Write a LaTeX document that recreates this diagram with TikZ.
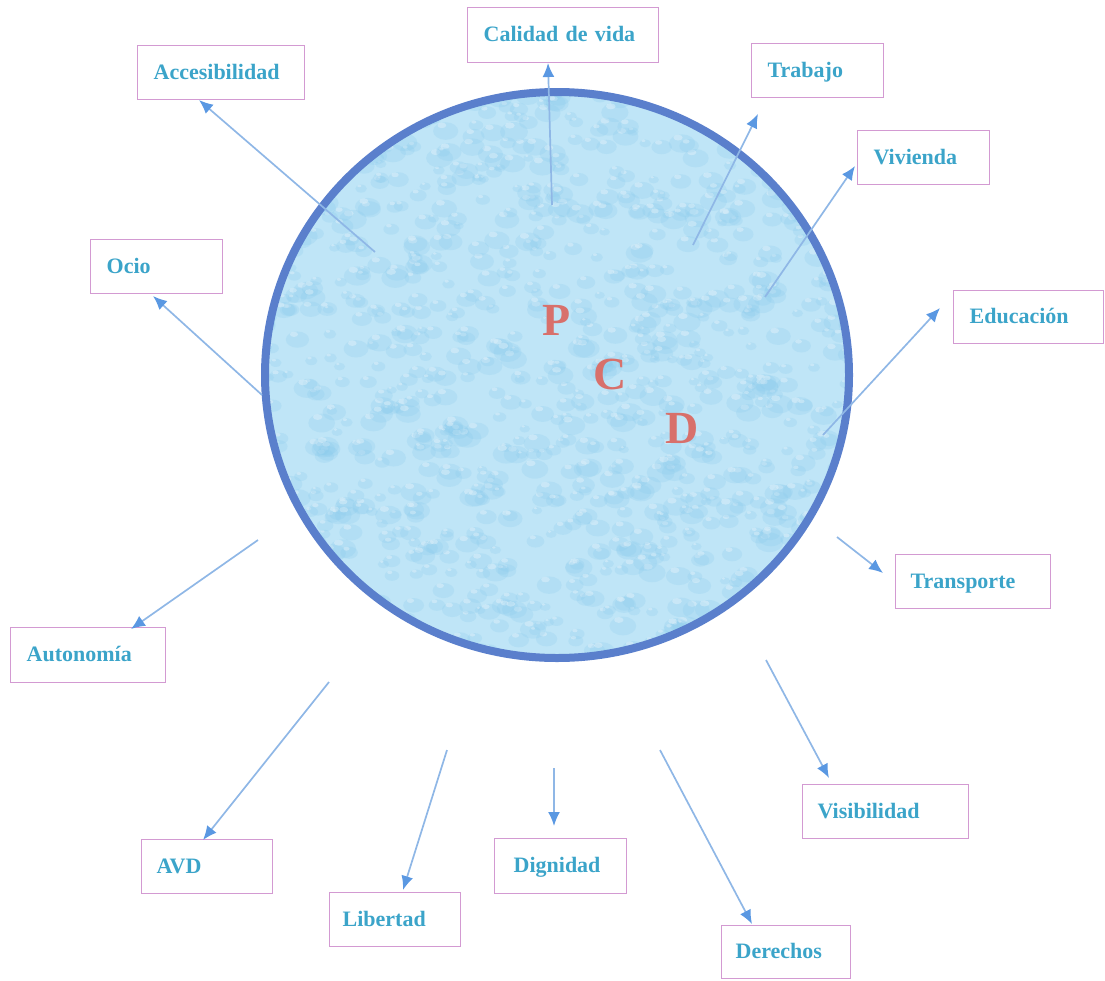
\documentclass[tikz,border=0pt]{standalone}
\usepackage{fontspec}
\setmainfont{Liberation Serif}
\usetikzlibrary{arrows.meta}
\definecolor{boxline}{HTML}{D39AD2}
\definecolor{labtext}{HTML}{3BA4C9}
\definecolor{arrline}{HTML}{8FB7E6}
\definecolor{arrtip}{HTML}{5A98E2}
\definecolor{ringblue}{HTML}{5A7FCC}
\definecolor{water}{HTML}{BFE5F7}
\definecolor{drop}{HTML}{86C9EC}
\definecolor{pcd}{HTML}{D8706B}
\tikzset{
  lbox/.style={draw=boxline, line width=1.3pt, anchor=north west, inner ysep=0pt, inner xsep=16pt,
    text=labtext, font=\fontsize{22}{24}\selectfont\bfseries, align=left,
    text height=17pt, text depth=4pt, minimum height=54pt},
  arr/.style={draw=arrline, line width=1.7pt, -{Latex[length=14pt,width=12pt,color=arrtip]}},
  pcdl/.style={text=pcd, font=\fontsize{46}{50}\selectfont\bfseries, inner sep=0pt}
}
\begin{document}
\begin{tikzpicture}[x=1pt,y=-1pt]
\useasboundingbox (0,0) rectangle (1105,980);
% circle with water texture
\begin{scope}
  \clip (557,375) ellipse [x radius=292, y radius=283];
  \fill[water] (557,375) ellipse [x radius=292, y radius=283];
  \pgfmathsetseed{7}
  \foreach \i in {1,...,1100}{
    \pgfmathsetmacro\dx{557+300*rand}
    \pgfmathsetmacro\dy{375+290*rand}
    \pgfmathsetmacro\rr{5+9*rnd}
    \fill[drop, opacity=0.22] (\dx,\dy+0.2*\rr) ellipse [x radius=\rr, y radius=0.7*\rr];
    \fill[white, opacity=0.3] (\dx-0.3*\rr,\dy-0.25*\rr) ellipse [x radius=0.35*\rr, y radius=0.22*\rr];
  }
\end{scope}
\draw[ringblue, line width=8pt] (557,375) ellipse [x radius=292, y radius=283];
\node[pcdl] (p) at (557,320) {P};
\node[pcdl] (c) at (610,374) {C};
\node[pcdl] (d) at (682,428) {D};
% boxes
\node[lbox, text width=159pt, minimum height=55pt] (cal) at (467,7) {Calidad de vida};
\node[lbox, text width=135pt] (acc) at (137,45) {Accesibilidad};
\node[lbox, text width=100pt] (tra) at (751,43) {Trabajo};
\node[lbox, text width=100pt] (viv) at (857,130) {Vivienda};
\node[lbox, text width=100pt] (oci) at (90,239) {Ocio};
\node[lbox, text width=118pt, minimum height=53pt] (edu) at (953,290) {Educación};
\node[lbox, inner xsep=15pt, text width=125pt] (tsp) at (895,554) {Transporte};
\node[lbox, text width=123pt, minimum height=55pt] (aut) at (10,627) {Autonomía};
\node[lbox, text width=136pt, inner xsep=15pt] (vis) at (802,784) {Visibilidad};
\node[lbox, text width=101pt, inner xsep=15pt] (avd) at (141,839) {AVD};
\node[lbox, text width=105pt, inner xsep=13pt] (lib) at (329,892) {Libertad};
\node[lbox, text width=94pt, inner xsep=19pt, minimum height=55pt] (dig) at (494,838) {Dignidad};
\node[lbox, text width=101pt, inner xsep=14pt, minimum height=53pt] (der) at (721,925) {Derechos};
% connector ends
\coordinate (scal) at (552,205); \coordinate (tcal) at (548,63);
\coordinate (sacc) at (375,252); \coordinate (tacc) at (199,100);
\coordinate (stra) at (693,245); \coordinate (ttra) at (758,114);
\coordinate (sviv) at (765,297); \coordinate (tviv) at (855,166);
\coordinate (soci) at (262,395); \coordinate (toci) at (153,296);
\coordinate (sedu) at (823,435); \coordinate (tedu) at (940,308);
\coordinate (stsp) at (837,537); \coordinate (ttsp) at (883,573);
\coordinate (saut) at (258,540); \coordinate (taut) at (131,629);
\coordinate (savd) at (329,682); \coordinate (tavd) at (203,840);
\coordinate (slib) at (447,750); \coordinate (tlib) at (403,890);
\coordinate (sdig) at (554,768); \coordinate (tdig) at (554,826);
\coordinate (svis) at (766,660); \coordinate (tvis) at (829,778);
\coordinate (sder) at (660,750); \coordinate (tder) at (752,924);
\foreach \n in {cal,acc,tra,viv,oci,edu,tsp,aut,avd,lib,dig,vis,der}
  \draw[arr] (s\n) -- (t\n);
\end{tikzpicture}
\end{document}
